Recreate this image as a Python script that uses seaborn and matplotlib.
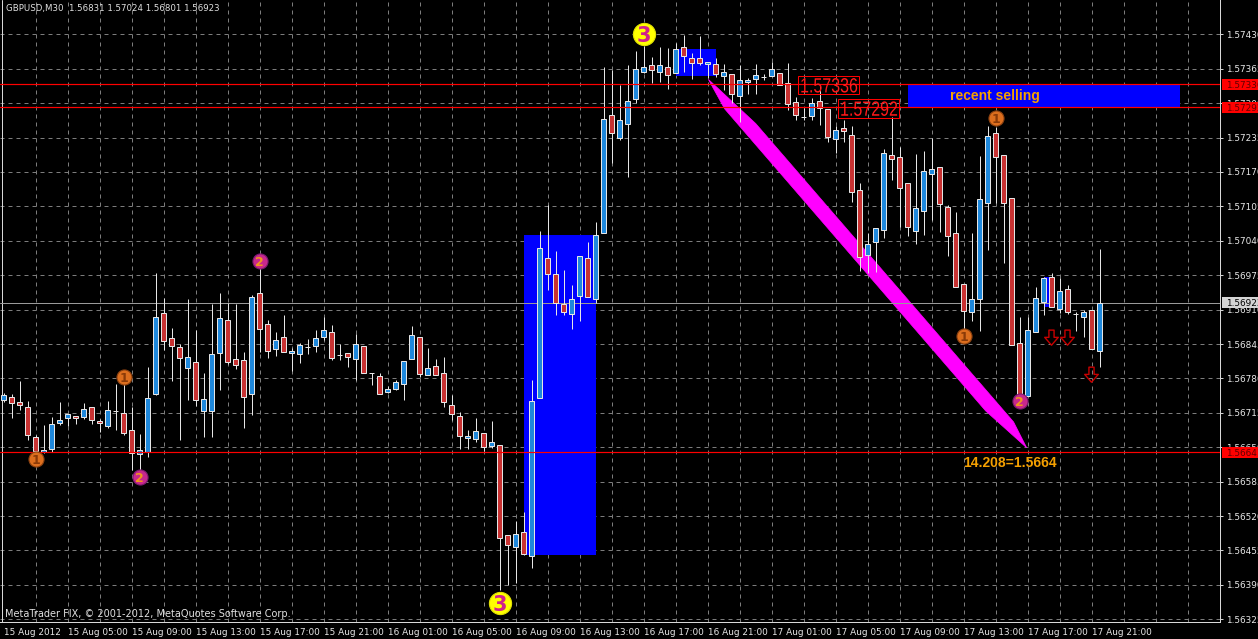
import numpy as np
import pandas as pd
import matplotlib
matplotlib.use("Agg")
import matplotlib.pyplot as plt
import matplotlib.transforms as mtransforms
from matplotlib.patches import Rectangle, Polygon, PathPatch
from matplotlib.path import Path
from matplotlib.textpath import TextPath
from matplotlib.font_manager import FontProperties
import seaborn as sns

# GBPUSD M30, first bar 15 Aug 2012 01:00, prices in points (1e-5)
first_bar = "2012-08-15 01:00"
title_text = "GBPUSD,M30  1.56831 1.57024 1.56801 1.56923"
footer_text = "MetaTrader FIX, \u00a9 2001-2012, MetaQuotes Software Corp."

open_pts = [156739, 156745, 156736, 156726, 156669, 156641, 156647, 156696, 156705, 156709,
            156707, 156726, 156700, 156690, 156718, 156715, 156683, 156637, 156641, 156751,
            156904, 156857, 156840, 156800, 156811, 156719, 156719, 156828, 156890, 156817,
            156815, 156751, 156941, 156883, 156836, 156858, 156828, 156826, 156840, 156841,
            156858, 156868, 156824, 156828, 156817, 156841, 156790, 156785, 156754, 156760,
            156770, 156817, 156858, 156787, 156804, 156790, 156730, 156709, 156668, 156666,
            156677, 156652, 156654, 156484, 156462, 156490, 156445, 156743, 157008, 156977,
            156921, 156902, 156936, 157008, 156930, 157055, 157278, 157234, 157261, 157308,
            157359, 157372, 157359, 157368, 157357, 157406, 157385, 157385, 157374, 157374,
            157351, 157355, 157314, 157340, 157346, 157349, 157351, 157357, 157338, 157302,
            157274, 157276, 157304, 157289, 157232, 157253, 157240, 157136, 157013, 157038,
            157060, 157202, 157198, 157149, 157059, 157096, 157166, 157180, 157104, 157055,
            156959, 156906, 156930, 157112, 157244, 157202, 157121, 156847, 156747, 156868,
            156924, 156972, 156911, 156949, 156902, 156896, 156909, 156831]
high_pts = [156753, 156751, 156775, 156737, 156673, 156692, 156707, 156736, 156713, 156709,
            156734, 156726, 156703, 156737, 156770, 156773, 156726, 156675, 156802, 156979,
            156932, 156875, 156845, 156930, 156872, 156790, 156921, 156941, 156923, 156921,
            156830, 156938, 156989, 156890, 156868, 156900, 156838, 156847, 156855, 156872,
            156896, 156881, 156845, 156828, 156864, 156841, 156790, 156790, 156766, 156777,
            156813, 156879, 156858, 156838, 156817, 156821, 156749, 156717, 156683, 156705,
            156677, 156700, 156654, 156484, 156511, 156528, 156777, 157059, 157108, 157021,
            156985, 156957, 157011, 157038, 157076, 157368, 157363, 157334, 157372, 157399,
            157408, 157387, 157406, 157404, 157414, 157429, 157395, 157427, 157378, 157385,
            157374, 157355, 157372, 157348, 157374, 157355, 157378, 157357, 157376, 157312,
            157291, 157310, 157334, 157289, 157257, 157268, 157257, 157149, 157055, 157064,
            157213, 157274, 157217, 157149, 157204, 157210, 157234, 157180, 157108, 157095,
            156959, 157055, 157200, 157257, 157255, 157202, 157121, 156896, 156896, 156953,
            156972, 156979, 156970, 156957, 156906, 156909, 156909, 157024]
low_pts = [156736, 156705, 156720, 156664, 156639, 156639, 156641, 156692, 156690, 156694,
           156703, 156694, 156679, 156686, 156683, 156673, 156607, 156607, 156632, 156749,
           156834, 156775, 156664, 156739, 156728, 156669, 156669, 156758, 156807, 156798,
           156686, 156711, 156830, 156819, 156822, 156830, 156794, 156809, 156826, 156830,
           156853, 156815, 156815, 156802, 156777, 156790, 156768, 156751, 156753, 156758,
           156739, 156817, 156783, 156787, 156787, 156726, 156702, 156647, 156647, 156660,
           156643, 156649, 156380, 156390, 156394, 156447, 156422, 156743, 156947, 156900,
           156900, 156873, 156889, 156934, 156923, 157055, 157187, 157230, 157161, 157300,
           157357, 157338, 157340, 157327, 157357, 157359, 157346, 157372, 157348, 157349,
           157325, 157300, 157264, 157317, 157317, 157344, 157351, 157334, 157287, 157268,
           157268, 157268, 157259, 157227, 157206, 157227, 157113, 156983, 156979, 156981,
           157045, 157155, 157066, 157049, 157034, 157051, 157079, 157057, 157011, 156953,
           156862, 156889, 156870, 157023, 157112, 156998, 156843, 156745, 156747, 156868,
           156900, 156915, 156904, 156902, 156870, 156858, 156836, 156801]
close_pts = [156749, 156734, 156730, 156673, 156643, 156645, 156694, 156702, 156713, 156705,
             156722, 156702, 156696, 156720, 156718, 156677, 156639, 156645, 156743, 156896,
             156851, 156841, 156819, 156821, 156739, 156741, 156826, 156894, 156811, 156805,
             156745, 156934, 156873, 156832, 156853, 156830, 156832, 156843, 156840, 156857,
             156872, 156819, 156824, 156821, 156845, 156790, 156790, 156751, 156760, 156773,
             156813, 156862, 156789, 156800, 156787, 156736, 156713, 156671, 156671, 156681,
             156651, 156660, 156479, 156466, 156486, 156449, 156737, 157026, 156977, 156923,
             156906, 156930, 157011, 156934, 157051, 157270, 157244, 157268, 157304, 157365,
             157368, 157363, 157372, 157353, 157402, 157389, 157376, 157376, 157378, 157355,
             157359, 157317, 157344, 157344, 157353, 157349, 157365, 157334, 157298, 157278,
             157274, 157300, 157291, 157236, 157249, 157248, 157132, 157009, 157034, 157064,
             157206, 157195, 157140, 157066, 157102, 157172, 157176, 157110, 157049, 156953,
             156908, 156930, 157119, 157238, 157198, 157112, 156843, 156745, 156872, 156932,
             156970, 156915, 156945, 156906, 156902, 156906, 156836, 156923]

price_ticks = [1.56325, 1.56390, 1.56455, 1.56520, 1.56585, 1.56650, 1.56715, 1.56780, 1.56845,
               1.56910, 1.56975, 1.57040, 1.57105, 1.57170, 1.57235, 1.57300, 1.57365, 1.57430]

# chart objects
red_levels = [1.57336, 1.57292, 1.56641]
bid_price = 1.56923

rect_from = [65, 84, 113, 130]
rect_to = [74, 89, 147, 131]
rect_low = [1.56447, 1.57352, 1.57292, 1.56915]
rect_high = [1.57051, 1.57402, 1.57334, 1.56971]

wave_bar = [4, 15, 17, 32, 62, 80, 120, 124, 127]
wave_price = [1.56628, 1.56783, 1.56594, 1.57001, 1.56356, 1.57431, 1.56861, 1.57271, 1.56737]
wave_label = ["1", "1", "2", "2", "3", "3", "1", "1", "2"]

arrow_bar = [131, 133, 136]
arrow_price = [1.56857, 1.56857, 1.56787]

trend_bar = [88.1, 127.9]
trend_price = [1.57345, 1.56649]

tag_text = ["1.57336", "1.57292"]
tag_bar = [99.35, 104.35]
tag_price = [1.57334, 1.57290]

note_text = ["recent selling", "14.208=1.5664"]
note_bar = [123.9, 119.9]
note_price = [1.57314, 1.56621]

# pixel geometry of the terminal window
W, H = 1258, 639
plot_w, plot_h = 1220, 622
bar_px = 8.0
px_per_price = 52941.0

sns.set_theme(style="dark", rc={"axes.facecolor": "black", "figure.facecolor": "black"})
plt.rcParams["font.family"] = ["DejaVu Sans"]

fig = plt.figure(figsize=(W / 100, H / 100), dpi=100)
ax = fig.add_axes([0, (H - plot_h) / H, plot_w / W, plot_h / H])
ax.set_facecolor("black")

x0 = -3.5 / bar_px
ax.set_xlim(x0, x0 + plot_w / bar_px)
ytop = 1.57430 + 34.3 / px_per_price
ax.set_ylim(ytop - plot_h / px_per_price, ytop)

df = pd.DataFrame({
    "time": pd.date_range(first_bar, periods=len(open_pts), freq="30min"),
    "open": np.array(open_pts) / 1e5,
    "high": np.array(high_pts) / 1e5,
    "low": np.array(low_pts) / 1e5,
    "close": np.array(close_pts) / 1e5,
})
df["bar"] = np.arange(len(df))

px = 0.72  # one pixel in points
grid_kw = dict(color="#7c7c7c", lw=px, linestyle=(0, (4, 4)), zorder=1)

# grid
ax.hlines(price_ticks, x0, x0 + plot_w / bar_px, **grid_kw)
ax.vlines(np.arange(4, 153, 4), *ax.get_ylim(), **grid_kw)
ax.axvline(-0.15, color="#d8d8d8", lw=px, zorder=1)

# background rectangles
for a, b, lo, hi in zip(rect_from, rect_to, rect_low, rect_high):
    ax.add_patch(Rectangle((a, lo), b - a, hi - lo, facecolor="#0000ff", edgecolor="none", zorder=1.5))

# magenta wedge
def along(t, dx):
    return (trend_bar[0] + t * (trend_bar[1] - trend_bar[0]) + dx,
            trend_price[0] + t * (trend_price[1] - trend_price[0]))

w = 1.15
wedge = [along(0, 0), along(0.12, w), along(0.93, w), along(1, 0), along(0.90, -w), along(0.08, -w)]
ax.add_patch(Polygon(wedge, closed=True, facecolor="#ff00ff", edgecolor="#ff00ff", lw=0.5, zorder=2))

# candles
up = df["close"] > df["open"]
down = df["close"] < df["open"]
ax.vlines(df["bar"], df["low"], df["high"], color="#e6e6e6", lw=px, zorder=3)
body_lo = df[["open", "close"]].min(axis=1)
body_h = (df["close"] - df["open"]).abs()
fills = np.where(up, "#1e88dc", np.where(down, "#c83232", "#e6e6e6"))
ax.bar(df["bar"], body_h, bottom=body_lo, width=0.62, color=fills,
       edgecolor="#e6e6e6", linewidth=px, zorder=4)

# horizontal lines
for lv in red_levels:
    ax.axhline(lv, color="#ff0000", lw=px * 1.2, zorder=4.5)
ax.axhline(bid_price, color="#9a9a9a", lw=px, zorder=2.5)

# price tags on the chart: boxed, tall narrow digits
tag_font = FontProperties(family="Liberation Sans")
for t, b, p in zip(tag_text, tag_bar, tag_price):
    ax.add_patch(Rectangle((b, p - 9.3 / px_per_price), 7.56, 18.7 / px_per_price,
                           facecolor="none", edgecolor="#ff0000", lw=px, zorder=5))
    xd, yd = ax.transData.transform((b + 0.22, p))
    tp = TextPath((0, 0), t, size=20, prop=tag_font)
    tr = mtransforms.Affine2D().scale(0.8, 1.03).translate(xd, yd - 7.3)
    ax.add_artist(PathPatch(tp, transform=tr, facecolor="#ff1a1a", edgecolor="none", zorder=5))

# text notes
for t, b, p in zip(note_text, note_bar, note_price):
    ha = "center" if t.startswith("recent") else "left"
    ax.text(b, p, t, color="#f5a000", fontsize=10, fontweight="bold", va="center", ha=ha,
            family=["Liberation Sans"], zorder=5)

# wave labels
waves = pd.DataFrame({"bar": wave_bar, "price": wave_price, "label": wave_label})
circle_fill = {"1": "#dc6e1e", "2": "#c8288c", "3": "#ffff00"}
circle_edge = {"1": "#8a4010", "2": "#7a1a70", "3": "#e0e000"}
circle_size = {"1": 118, "2": 118, "3": 255}
text_color = {"1": "#8a3a08", "2": "#f0961e", "3": "#d0208c"}
text_size = {"1": 9, "2": 9, "3": 15}
for lab, grp in waves.groupby("label"):
    sns.scatterplot(data=grp, x="bar", y="price", ax=ax, s=circle_size[lab],
                    color=circle_fill[lab], edgecolor=circle_edge[lab], linewidth=0.8,
                    legend=False, zorder=6)
    for _, r in grp.iterrows():
        ax.text(r["bar"], r["price"], lab, color=text_color[lab], fontsize=text_size[lab],
                fontweight="bold", ha="center", va="center_baseline", zorder=7)

# sell arrows
arrow_marker = Path([(-0.17, 0.5), (0.17, 0.5), (0.17, 0.02), (0.45, 0.02), (0.0, -0.5),
                     (-0.45, 0.02), (-0.17, 0.02), (-0.17, 0.5)], closed=True)
ax.scatter(arrow_bar, arrow_price, marker=arrow_marker, s=118, facecolors="none",
           edgecolors="#c80000", linewidths=1.0, zorder=6)

# axes: time along the bottom, price on the right
tick_bars = list(range(0, len(df), 8))
tick_labels = []
for b in tick_bars:
    t = df["time"].iloc[b]
    tick_labels.append(t.strftime("%d %b %Y") if b == 0 else t.strftime("%d %b %H:%M"))
ax.set_xticks(tick_bars)
ax.set_xticklabels(tick_labels, ha="left")
ax.yaxis.tick_right()
ax.set_yticks(price_ticks)
ax.set_yticklabels([f"{p:.5f}" for p in price_ticks])
ax.tick_params(axis="x", length=3, width=px, color="#d0d0d0", pad=1.5,
               labelsize=6.4, labelcolor="#e8e8e8")
ax.tick_params(axis="y", length=2.2, width=px, color="#d0d0d0", pad=2.2,
               labelsize=6.4, labelcolor="#e8e8e8")
ax.grid(False)
for side in ["top", "left"]:
    ax.spines[side].set_visible(False)
for side in ["right", "bottom"]:
    ax.spines[side].set_visible(True)
    ax.spines[side].set_color("#d8d8d8")
    ax.spines[side].set_linewidth(px)
ax.set_xlabel("")
ax.set_ylabel("")

# price boxes on the scale
blend = mtransforms.blended_transform_factory(ax.transAxes, ax.transData)
scale_tags = red_levels + [bid_price]
tag_bg = ["#ff0000", "#ff0000", "#ff0000", "#d4d4d4"]
tag_fg = ["#600000", "#600000", "#600000", "#000000"]
for p, bg, fg in zip(scale_tags, tag_bg, tag_fg):
    ax.add_patch(Rectangle((1222 / plot_w, p - 5.5 / px_per_price), 40 / plot_w, 11 / px_per_price,
                           transform=blend, facecolor=bg, edgecolor="none", clip_on=False, zorder=8))
    ax.text(1226 / plot_w, p, f"{p:.5f}", transform=blend, color=fg, fontsize=6.4,
            va="center_baseline", ha="left", clip_on=False, zorder=9)

fig.text(6 / W, 1 - 9 / H, title_text, color="#e0e0e0", fontsize=6.2, ha="left", va="center")
fig.text(5 / W, 1 - 614 / H, footer_text, color="#e0e0e0", fontsize=7, ha="left", va="center",
         zorder=10)

fig.savefig("out.png", dpi=100, facecolor="black")
